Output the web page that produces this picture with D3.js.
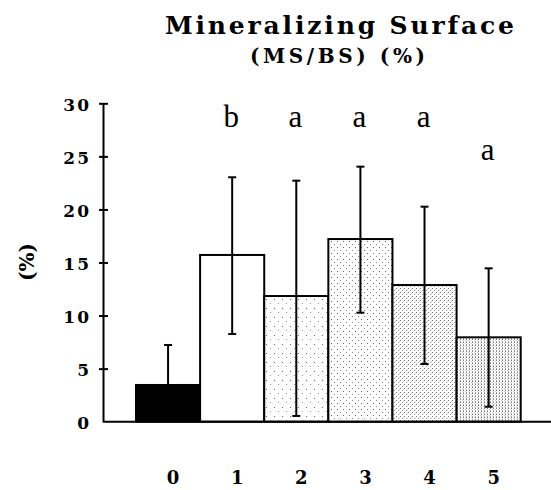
<!DOCTYPE html>
<html><head><meta charset="utf-8">
<script src="https://cdn.jsdelivr.net/npm/d3@7"></script>
<style>body{margin:0;background:#fff}</style>
</head><body>
<svg id="chart" width="551" height="490"></svg>
<script>
// ---- data ----
const categories = ["0", "1", "2", "3", "4", "5"];
const means = [3.46, 15.71, 11.84, 17.21, 12.88, 7.95];
const errUpper = [7.23, 23.03, 22.71, 24.03, 20.26, 14.45];
const errLower = [null, 8.26, 0.54, 10.27, 5.44, 1.41];
const sigLetters = ["", "b", "a", "a", "a", "a"];
const letterLevels = [null, 27.8, 27.8, 27.8, 27.8, 24.7];
const yTicks = [0, 5, 10, 15, 20, 25, 30];
const titleText = "Mineralizing Surface";
const subtitleText = "(MS/BS) (%)";
const yAxisTitle = "(%)";

// ---- styles ----
const barFills = ["#000", "#fff", "url(#p2)", "url(#p3)", "url(#p4)", "url(#p5)"];
const serif = "'Liberation Serif','DejaVu Serif',serif";
const boldSerif = "'DejaVu Serif','Liberation Serif',serif";

const svg = d3.select("#chart");
const defs = svg.append("defs");
function pattern(id, w, h, dots) {
  const p = defs.append("pattern").attr("id", id).attr("patternUnits", "userSpaceOnUse")
    .attr("width", w).attr("height", h);
  p.append("rect").attr("width", w).attr("height", h).attr("fill", "#fff");
  dots.forEach(([dx, dy, c]) => p.append("rect").attr("x", dx).attr("y", dy)
    .attr("width", 1).attr("height", 1).attr("fill", c || "#555"));
}
pattern("p2", 8, 9, [[2, 2, "#666"], [6, 6, "#999"]]);
pattern("p3", 6, 6, [[1, 1, "#666"], [4, 4, "#888"]]);
pattern("p4", 4, 4, [[0, 0, "#777"], [2, 2, "#999"], [3, 1, "#ccc"]]);
pattern("p5", 3, 3, [[1, 0, "#777"], [1, 2, "#aaa"], [0, 1, "#ccc"]]);

const x = d3.scaleBand().domain(categories).range([136, 520.7]).padding(0);
const y = d3.scaleLinear().domain([0, 30]).range([421.7, 103.3]);
const axisX = 103;

const data = categories.map((c, i) => ({
  c, i, m: means[i], hi: errUpper[i], lo: errLower[i],
  letter: sigLetters[i], ly: letterLevels[i]
}));

// bars
svg.append("g").selectAll("rect").data(data).join("rect")
  .attr("x", d => x(d.c)).attr("width", x.bandwidth())
  .attr("y", d => y(d.m)).attr("height", d => y(0) - y(d.m))
  .attr("fill", d => barFills[d.i]).attr("stroke", "#000").attr("stroke-width", 2);

// error bars
const eb = svg.append("g").attr("stroke", "#000").attr("stroke-width", 2);
data.forEach(d => {
  const cx = x(d.c) + x.bandwidth() / 2;
  const lo = d.lo == null ? d.m : d.lo;
  eb.append("line").attr("x1", cx).attr("x2", cx).attr("y1", y(lo)).attr("y2", y(d.hi));
  eb.append("line").attr("x1", cx - 4).attr("x2", cx + 4).attr("y1", y(d.hi)).attr("y2", y(d.hi));
  if (d.lo != null)
    eb.append("line").attr("x1", cx - 4).attr("x2", cx + 4).attr("y1", y(d.lo)).attr("y2", y(d.lo));
});

// significance letters
svg.append("g").selectAll("text").data(data.filter(d => d.letter)).join("text")
  .attr("x", d => x(d.c) + x.bandwidth() / 2 - 1).attr("y", d => y(d.ly))
  .attr("text-anchor", "middle").attr("font-family", serif)
  .attr("font-size", 31).attr("fill", "#000").text(d => d.letter);

// x axis baseline
svg.append("line").attr("x1", axisX).attr("x2", 551).attr("y1", y(0)).attr("y2", y(0))
  .attr("stroke", "#000").attr("stroke-width", 2);

// y axis
const yAxis = d3.axisLeft(y).tickValues(yTicks).tickSize(0).tickFormat(d3.format("d"));
const ga = svg.append("g").attr("transform", `translate(${axisX},0)`).call(yAxis);
ga.select(".domain").attr("stroke", "#000").attr("stroke-width", 2);
ga.selectAll(".tick").each(function(d) {
  if (d !== 0) d3.select(this).append("line").attr("x1", -4).attr("x2", 5)
    .attr("stroke", "#000").attr("stroke-width", 2);
});
ga.selectAll(".tick text").attr("x", -12).attr("dy", "0.42em")
  .attr("font-family", boldSerif).attr("font-weight", "bold").attr("font-size", 17)
  .attr("letter-spacing", 2).attr("fill", "#000");

// x category labels
svg.append("g").selectAll("text").data(data).join("text")
  .attr("x", d => x(d.c) + x.bandwidth() / 2 + 5).attr("y", 484)
  .attr("text-anchor", "middle").attr("font-family", boldSerif).attr("font-weight", "bold")
  .attr("font-size", 18).attr("fill", "#000").text(d => d.c);

// titles
svg.append("text").attr("x", 339.5).attr("y", 34).attr("text-anchor", "middle")
  .attr("font-family", boldSerif).attr("font-weight", "bold").attr("font-size", 25)
  .attr("textLength", 349).attr("lengthAdjust", "spacing").text(titleText);
svg.append("text").attr("x", 337.5).attr("y", 63).attr("text-anchor", "middle")
  .attr("font-family", boldSerif).attr("font-weight", "bold").attr("font-size", 20)
  .attr("textLength", 175).attr("lengthAdjust", "spacing").text(subtitleText);

// y axis title
svg.append("text").attr("transform", "translate(34,262) rotate(-90)")
  .attr("text-anchor", "middle").attr("font-family", boldSerif).attr("font-weight", "bold")
  .attr("font-size", 20).text(yAxisTitle);
</script>
</body></html>
